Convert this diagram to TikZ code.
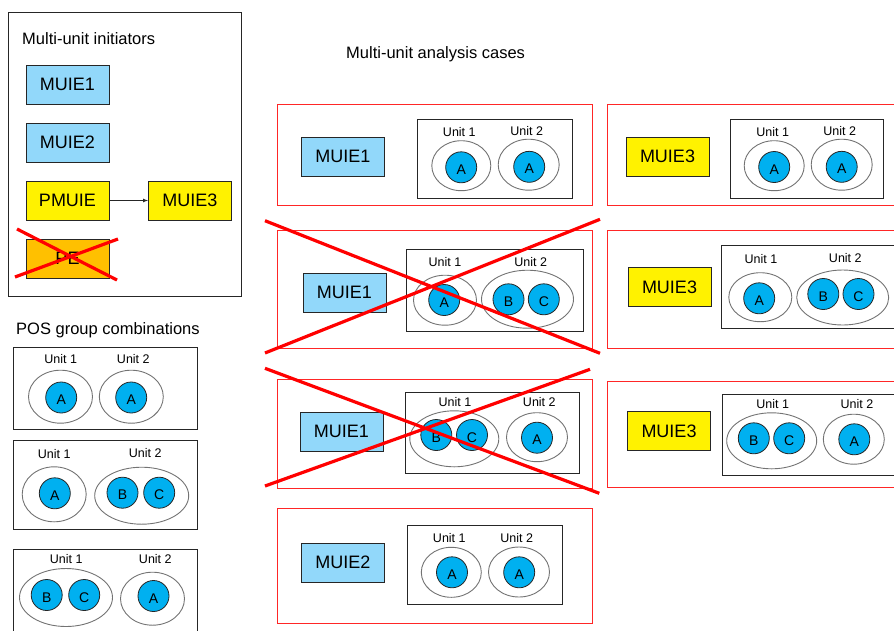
\documentclass[tikz,border=0pt]{standalone}
\usepackage{fontspec}
\setmainfont{Liberation Sans}
\usetikzlibrary{shapes.geometric,positioning,arrows}
\definecolor{muieblue}{RGB}{146,216,250}
\definecolor{grpblue}{RGB}{0,176,240}
\definecolor{peorange}{RGB}{255,192,0}
\tikzset{
  muie/.style={ % initiator box, blue by default
    draw=black!85, line width=0.9pt, rectangle,
    minimum width=83pt, minimum height=39pt, inner sep=0pt,
    fill=muieblue, font=\fontsize{18}{18}\selectfont
  },
  casebox/.style={ % one analysis case
    draw=red!85, line width=0.8pt, rectangle, inner sep=0pt
  },
  unitbox/.style={ % frame round the two units
    draw=black!85, line width=1pt, rectangle, inner sep=0pt
  },
  unitell/.style={ % one unit
    draw=black!55, line width=0.9pt, ellipse, inner sep=0pt
  },
  grp/.style={ % POS group
    draw=black!85, line width=0.8pt, circle, fill=grpblue,
    minimum size=31pt, inner sep=0pt, text height=14pt, text depth=0pt,
    font=\fontsize{14}{14}\selectfont
  },
  unitlbl/.style={inner sep=0pt, font=\fontsize{12.5}{12.5}\selectfont},
  heading/.style={inner sep=0pt, anchor=west, font=\fontsize{16.5}{16.5}\selectfont},
  redx/.style={draw=red, line width=3.2pt}
}
\begin{document}
\begin{tikzpicture}[x=1pt,y=-1pt]
  \useasboundingbox (0,0) rectangle (894,630);
  \clip (0,0) rectangle (894,630);

  % initiators
  \node[draw=black!85, line width=0.9pt, minimum width=233pt, minimum height=284pt] (init) at (124.5,154) {};
  \node[heading] (init_title) at (22,39) {Multi-unit initiators};
  \node[muie] (i1) at (67.5,84.5) {MUIE1};
  \node[muie] (i2) at (67.5,142.5) {MUIE2};
  \node[muie, fill=yellow] (ip) at (67.5,200.5) {PMUIE};
  \node[muie, fill=yellow] (i3) at (190,200.5) {MUIE3};
  \node[muie, fill=peorange] (ipe) at (67.5,258.5) {PE};
  \draw[->, >=latex, black!85, line width=0.7pt] (ip) -- (i3);
  \draw[redx] (15,277) -- (118,239) (17,229) -- (117,280);

  % POS group combinations
  \node[heading] (comb_title) at (16,330) {POS group combinations};
  \node[unitbox, minimum width=184pt, minimum height=82pt] (p1) at (105,388) {};
  \node[unitlbl] at (60.8,359.3) {Unit 1};
  \node[unitlbl] at (133.3,359.3) {Unit 2};
  \node[unitell, minimum width=64pt, minimum height=53pt] (p1u1) at (60.5,396.7) {};
  \node[unitell, minimum width=64pt, minimum height=53pt] (p1u2) at (131.3,396.7) {};
  \node[grp] (p1a) at (61.2,397.5) {A};
  \node[grp] (p1a2) at (131.2,397.5) {A};

  \node[unitbox, minimum width=184pt, minimum height=89pt] (p2) at (105,484.5) {};
  \node[unitlbl] at (54.2,454) {Unit 1};
  \node[unitlbl] at (145.3,452.7) {Unit 2};
  \node[unitell, minimum width=64pt, minimum height=55pt] (p2u1) at (54.2,494.3) {};
  \node[unitell, minimum width=94pt, minimum height=57pt] (p2u2) at (141.7,495.7) {};
  \node[grp] (p2a) at (54.8,493.3) {A};
  \node[grp] (p2b) at (122.5,492.7) {B};
  \node[grp] (p2c) at (159.2,492.7) {C};

  \node[unitbox, minimum width=184pt, minimum height=101pt] (p3) at (105,599.5) {};
  \node[unitlbl] at (66.3,559.3) {Unit 1};
  \node[unitlbl] at (155.3,559) {Unit 2};
  \node[unitell, minimum width=93pt, minimum height=58pt] (p3u1) at (66,597.5) {};
  \node[unitell, minimum width=64pt, minimum height=53pt] (p3u2) at (152.5,598.7) {};
  \node[grp] (p3b) at (46.7,595) {B};
  \node[grp] (p3c) at (84.2,595) {C};
  \node[grp] (p3a) at (153.5,596) {A};

  % analysis cases
  \node[heading] (case_title) at (346,54) {Multi-unit analysis cases};

  \node[casebox, minimum width=315pt, minimum height=101pt] (c1) at (434.5,154.5) {};
  \node[muie] (c1m) at (343,156.5) {MUIE1};
  \node[unitbox, minimum width=155pt, minimum height=79pt] (c1box) at (494.5,158.5) {};
  \node[unitlbl] at (459.3,132.3) {Unit 1};
  \node[unitlbl] at (526.7,131) {Unit 2};
  \node[unitell, minimum width=59pt, minimum height=50pt] (c1u1) at (461.3,165.7) {};
  \node[unitell, minimum width=61pt, minimum height=51pt] (c1u2) at (528.7,164.7) {};
  \node[grp] (c1a) at (461.2,167.3) {A};
  \node[grp] (c1a2) at (529.2,166.8) {A};

  \node[casebox, minimum width=315pt, minimum height=118pt] (c2) at (434.5,289) {};
  \node[muie] (c2m) at (344.5,292.5) {MUIE1};
  \node[unitbox, minimum width=177pt, minimum height=82pt] (c2box) at (494.5,290) {};
  \node[unitlbl] at (445,262.3) {Unit 1};
  \node[unitlbl] at (530.7,261.7) {Unit 2};
  \node[unitell, minimum width=63pt, minimum height=50pt] (c2u1) at (445,300.2) {};
  \node[unitell, minimum width=92pt, minimum height=58pt] (c2u2) at (527.5,299.2) {};
  \node[grp] (c2a) at (444.2,300) {A};
  \node[grp] (c2b) at (508.5,299.3) {B};
  \node[grp] (c2c) at (543.8,299.3) {C};

  \node[casebox, minimum width=315pt, minimum height=109pt] (c3) at (434.5,433.5) {};
  \node[muie] (c3m) at (341.5,431.5) {MUIE1};
  \node[unitbox, minimum width=174pt, minimum height=81pt] (c3box) at (492,432.5) {};
  \node[unitlbl] at (455,402.3) {Unit 1};
  \node[unitlbl] at (539.3,402.3) {Unit 2};
  \node[unitell, minimum width=89pt, minimum height=56pt] (c3u1) at (454.3,438.8) {};
  \node[unitell, minimum width=61pt, minimum height=49pt] (c3u2) at (537,437.2) {};
  \node[grp] (c3b) at (436.3,435) {B};
  \node[grp] (c3c) at (472,435) {C};
  \node[grp] (c3a) at (537,437.7) {A};

  \node[casebox, minimum width=315pt, minimum height=115pt] (c4) at (434.5,565.5) {};
  \node[muie] (c4m) at (343,562.5) {MUIE2};
  \node[unitbox, minimum width=155pt, minimum height=79pt] (c4box) at (484.5,564.5) {};
  \node[unitlbl] at (449.3,538.3) {Unit 1};
  \node[unitlbl] at (516.7,537.7) {Unit 2};
  \node[unitell, minimum width=60pt, minimum height=50pt] (c4u1) at (451.3,572.3) {};
  \node[unitell, minimum width=61pt, minimum height=50pt] (c4u2) at (519,572) {};
  \node[grp] (c4a) at (452,572.3) {A};
  \node[grp] (c4a2) at (519.2,572.3) {A};

  \node[casebox, minimum width=303pt, minimum height=101pt] (r1) at (758.5,154.5) {};
  \node[muie, fill=yellow] (r1m) at (667.5,156.5) {MUIE3};
  \node[unitbox, minimum width=153pt, minimum height=79pt] (r1box) at (806.5,158.5) {};
  \node[unitlbl] at (772.7,132.3) {Unit 1};
  \node[unitlbl] at (839.7,131) {Unit 2};
  \node[unitell, minimum width=60pt, minimum height=50pt] (r1u1) at (774.2,165.7) {};
  \node[unitell, minimum width=61pt, minimum height=51pt] (r1u2) at (841.7,164.7) {};
  \node[grp] (r1a) at (774.2,167) {A};
  \node[grp] (r1a2) at (841.7,166.8) {A};

  \node[casebox, minimum width=303pt, minimum height=118pt] (r2) at (758.5,289) {};
  \node[muie, fill=yellow] (r2m) at (669.5,287) {MUIE3};
  \node[unitbox, minimum width=189pt, minimum height=83pt] (r2box) at (815.5,286.5) {};
  \node[unitlbl] at (761,259) {Unit 1};
  \node[unitlbl] at (845.3,258.3) {Unit 2};
  \node[unitell, minimum width=63pt, minimum height=49pt] (r2u1) at (760.3,297.2) {};
  \node[unitell, minimum width=92pt, minimum height=55pt] (r2u2) at (842.7,297.5) {};
  \node[grp] (r2a) at (759.2,298.3) {A};
  \node[grp] (r2b) at (823.3,294) {B};
  \node[grp] (r2c) at (858.5,294) {C};

  \node[casebox, minimum width=303pt, minimum height=106pt] (r3) at (758.5,434) {};
  \node[muie, fill=yellow] (r3m) at (669,431) {MUIE3};
  \node[unitbox, minimum width=188pt, minimum height=81pt] (r3box) at (816,434.5) {};
  \node[unitlbl] at (772.7,404) {Unit 1};
  \node[unitlbl] at (857,404) {Unit 2};
  \node[unitell, minimum width=90pt, minimum height=56pt] (r3u1) at (771.7,440.8) {};
  \node[unitell, minimum width=61pt, minimum height=50pt] (r3u2) at (853.8,439.2) {};
  \node[grp] (r3b) at (753.8,438.3) {B};
  \node[grp] (r3c) at (789.2,438.3) {C};
  \node[grp] (r3a) at (854.3,439.3) {A};

  % crossed-out cases
  \draw[redx] (265,353) -- (600,219.3) (265,220.7) -- (600,353.3);
  \draw[redx] (265,486) -- (590,369.3) (265,368.3) -- (599.3,493.3);
\end{tikzpicture}
\end{document}
